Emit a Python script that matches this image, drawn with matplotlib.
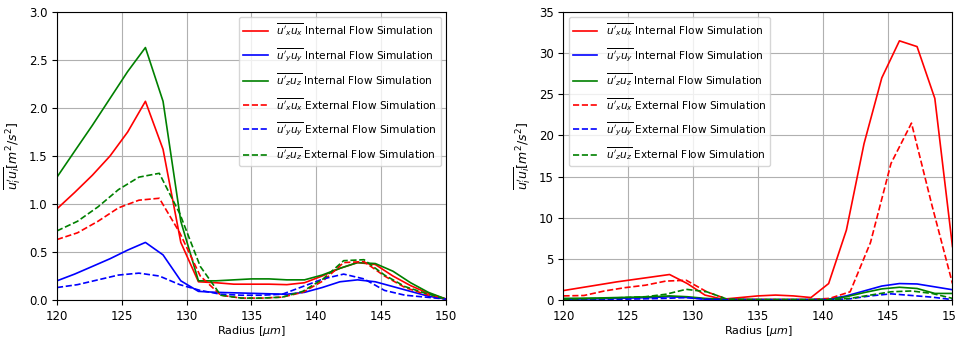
import matplotlib
matplotlib.use("Agg")
import matplotlib.pyplot as plt

# radius grids (internal run has 23 samples, external run 20)
r_int = [120.0, 121.36, 122.73, 124.09, 125.45, 126.82, 128.18, 129.55, 130.91, 132.27,
         133.64, 135.0, 136.36, 137.73, 139.09, 140.45, 141.82, 143.18, 144.55, 145.91,
         147.27, 148.64, 150.0]
r_ext = [120.0, 121.58, 123.16, 124.74, 126.32, 127.89, 129.47, 131.05, 132.63, 134.21,
         135.79, 137.37, 138.95, 140.53, 142.11, 143.68, 145.26, 146.84, 148.42, 150.0]

# ---------------- LEFT PANEL ----------------
left_int_ux = [0.95, 1.12, 1.30, 1.50, 1.75, 2.07, 1.57, 0.60, 0.19, 0.18, 0.165, 0.165,
               0.165, 0.16, 0.18, 0.25, 0.33, 0.39, 0.37, 0.25, 0.15, 0.07, 0.01]
left_int_uy = [0.20, 0.27, 0.35, 0.43, 0.52, 0.60, 0.47, 0.20, 0.09, 0.08, 0.075, 0.07,
               0.065, 0.06, 0.08, 0.13, 0.19, 0.21, 0.19, 0.14, 0.09, 0.04, 0.01]
left_int_uz = [1.28, 1.55, 1.82, 2.10, 2.38, 2.63, 2.07, 0.82, 0.20, 0.20, 0.21, 0.22,
               0.22, 0.21, 0.21, 0.26, 0.33, 0.39, 0.38, 0.30, 0.18, 0.08, 0.01]
left_ext_ux = [0.63, 0.70, 0.82, 0.96, 1.04, 1.06, 0.70, 0.25, 0.05, 0.02, 0.02, 0.03,
               0.08, 0.20, 0.39, 0.40, 0.25, 0.13, 0.06, 0.01]
left_ext_uy = [0.13, 0.16, 0.21, 0.26, 0.28, 0.25, 0.16, 0.10, 0.06, 0.05, 0.05, 0.06,
               0.14, 0.22, 0.27, 0.22, 0.10, 0.05, 0.03, 0.01]
left_ext_uz = [0.72, 0.82, 0.97, 1.15, 1.28, 1.32, 0.90, 0.35, 0.05, 0.02, 0.02, 0.03,
               0.09, 0.22, 0.41, 0.42, 0.26, 0.14, 0.07, 0.01]

# ---------------- RIGHT PANEL ----------------
right_int_ux = [1.15, 1.5, 1.85, 2.2, 2.5, 2.8, 3.1, 2.0, 0.6, 0.1, 0.3, 0.5,
                0.6, 0.5, 0.3, 2.0, 8.5, 19.0, 27.0, 31.5, 30.8, 24.5, 6.5]
right_int_uy = [0.1, 0.12, 0.15, 0.2, 0.25, 0.3, 0.4, 0.3, 0.1, 0.05, 0.05, 0.05,
                0.05, 0.05, 0.05, 0.1, 0.5, 1.1, 1.7, 2.0, 1.95, 1.6, 1.25]
right_int_uz = [0.2, 0.22, 0.25, 0.3, 0.35, 0.4, 0.5, 0.4, 0.2, 0.1, 0.08, 0.06,
                0.05, 0.05, 0.05, 0.05, 0.4, 0.9, 1.35, 1.55, 1.4, 0.8, 0.8]
right_ext_ux = [0.5, 0.55, 1.1, 1.5, 1.8, 2.3, 2.4, 1.0, 0.1, 0.05, 0.05, 0.05,
                0.05, 0.2, 1.0, 7.0, 16.6, 21.5, 11.5, 2.0]
right_ext_uy = [0.05, 0.05, 0.08, 0.1, 0.15, 0.2, 0.3, 0.1, 0.05, 0.03, 0.03, 0.03,
                0.03, 0.05, 0.15, 0.5, 0.75, 0.55, 0.35, 0.05]
right_ext_uz = [0.1, 0.15, 0.2, 0.3, 0.4, 0.7, 1.3, 1.0, 0.1, 0.05, 0.05, 0.05,
                0.05, 0.05, 0.2, 0.6, 1.0, 1.1, 0.8, 0.2]

labels = [r"$\overline{u'_xu_x}$ Internal Flow Simulation",
          r"$\overline{u'_yu_y}$ Internal Flow Simulation",
          r"$\overline{u'_zu_z}$ Internal Flow Simulation",
          r"$\overline{u'_xu_x}$ External Flow Simulation",
          r"$\overline{u'_yu_y}$ External Flow Simulation",
          r"$\overline{u'_zu_z}$ External Flow Simulation"]
colors = ["red", "blue", "green"]

plt.rcParams["font.size"] = 8

fig = plt.figure(figsize=(9.56, 3.4), dpi=100)
ax1 = fig.add_axes([0.0596, 0.1176, 0.4069, 0.847])
ax2 = fig.add_axes([0.5894, 0.1176, 0.4069, 0.847])


def draw(ax, internal, external, ymax, loc):
    for vals, c, lab in zip(internal, colors, labels[:3]):
        ax.plot(r_int, vals, color=c, lw=1.2, label=lab)
    for vals, c, lab in zip(external, colors, labels[3:]):
        ax.plot(r_ext, vals, color=c, lw=1.2, ls="--", label=lab)
    ax.set_xlim(120, 150)
    ax.set_ylim(0, ymax)
    ax.grid(True)
    ax.tick_params(labelsize=8.5)
    ax.set_xlabel(r"Radius [$\mu m$]", fontsize=8, labelpad=1)
    ax.set_ylabel(r"$\overline{u_i'u_i} [m^2/s^2]$", fontsize=9)
    ax.legend(loc=loc, fontsize=7.6, labelspacing=0.72, handlelength=2.3)


draw(ax1, [left_int_ux, left_int_uy, left_int_uz],
     [left_ext_ux, left_ext_uy, left_ext_uz], 3.0, "upper right")
draw(ax2, [right_int_ux, right_int_uy, right_int_uz],
     [right_ext_ux, right_ext_uy, right_ext_uz], 35, "upper left")

fig.savefig("out.png", dpi=100)
